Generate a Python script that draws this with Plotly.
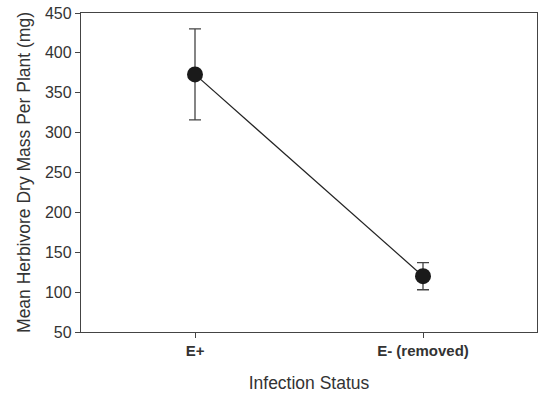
import plotly.graph_objects as go

categories = ["E+", "E- (removed)"]
means = [373, 120]
errors = [57, 17]
y_ticks = [50, 100, 150, 200, 250, 300, 350, 400, 450]

fig = go.Figure()
fig.add_trace(go.Scatter(
    x=categories, y=means, mode="lines+markers",
    line=dict(color="#222222", width=1.2),
    marker=dict(color="#1a1a1a", size=16),
    error_y=dict(type="data", array=errors, visible=True, color="#444444", thickness=1.3, width=6),
    showlegend=False,
))
fig.update_layout(
    width=541, height=393,
    margin=dict(l=81, r=4, t=13, b=61),
    plot_bgcolor="white", paper_bgcolor="white",
    font=dict(family="Liberation Sans, Arial, sans-serif", color="#333333"),
)
fig.update_xaxes(
    type="category", range=[-0.5, 1.5],
    showline=True, linecolor="#444444", linewidth=1.3, mirror=True,
    ticks="outside", ticklen=5, tickcolor="#444444", tickwidth=1.3,
    showgrid=False, zeroline=False,
    tickfont=dict(size=15, family="Liberation Sans, Arial, sans-serif", weight="bold", color="#333333"),
    title=dict(text="Infection Status", font=dict(size=17.5), standoff=18),
)
fig.update_yaxes(
    range=[50, 450], tickvals=y_ticks,
    showline=True, linecolor="#444444", linewidth=1.3, mirror=True,
    ticks="outside", ticklen=5, tickcolor="#444444", tickwidth=1.3,
    showgrid=False, zeroline=False,
    tickfont=dict(size=16),
    title=dict(text="Mean Herbivore Dry Mass Per Plant (mg)", font=dict(size=17.5), standoff=9),
)
fig.write_html("out.html")
